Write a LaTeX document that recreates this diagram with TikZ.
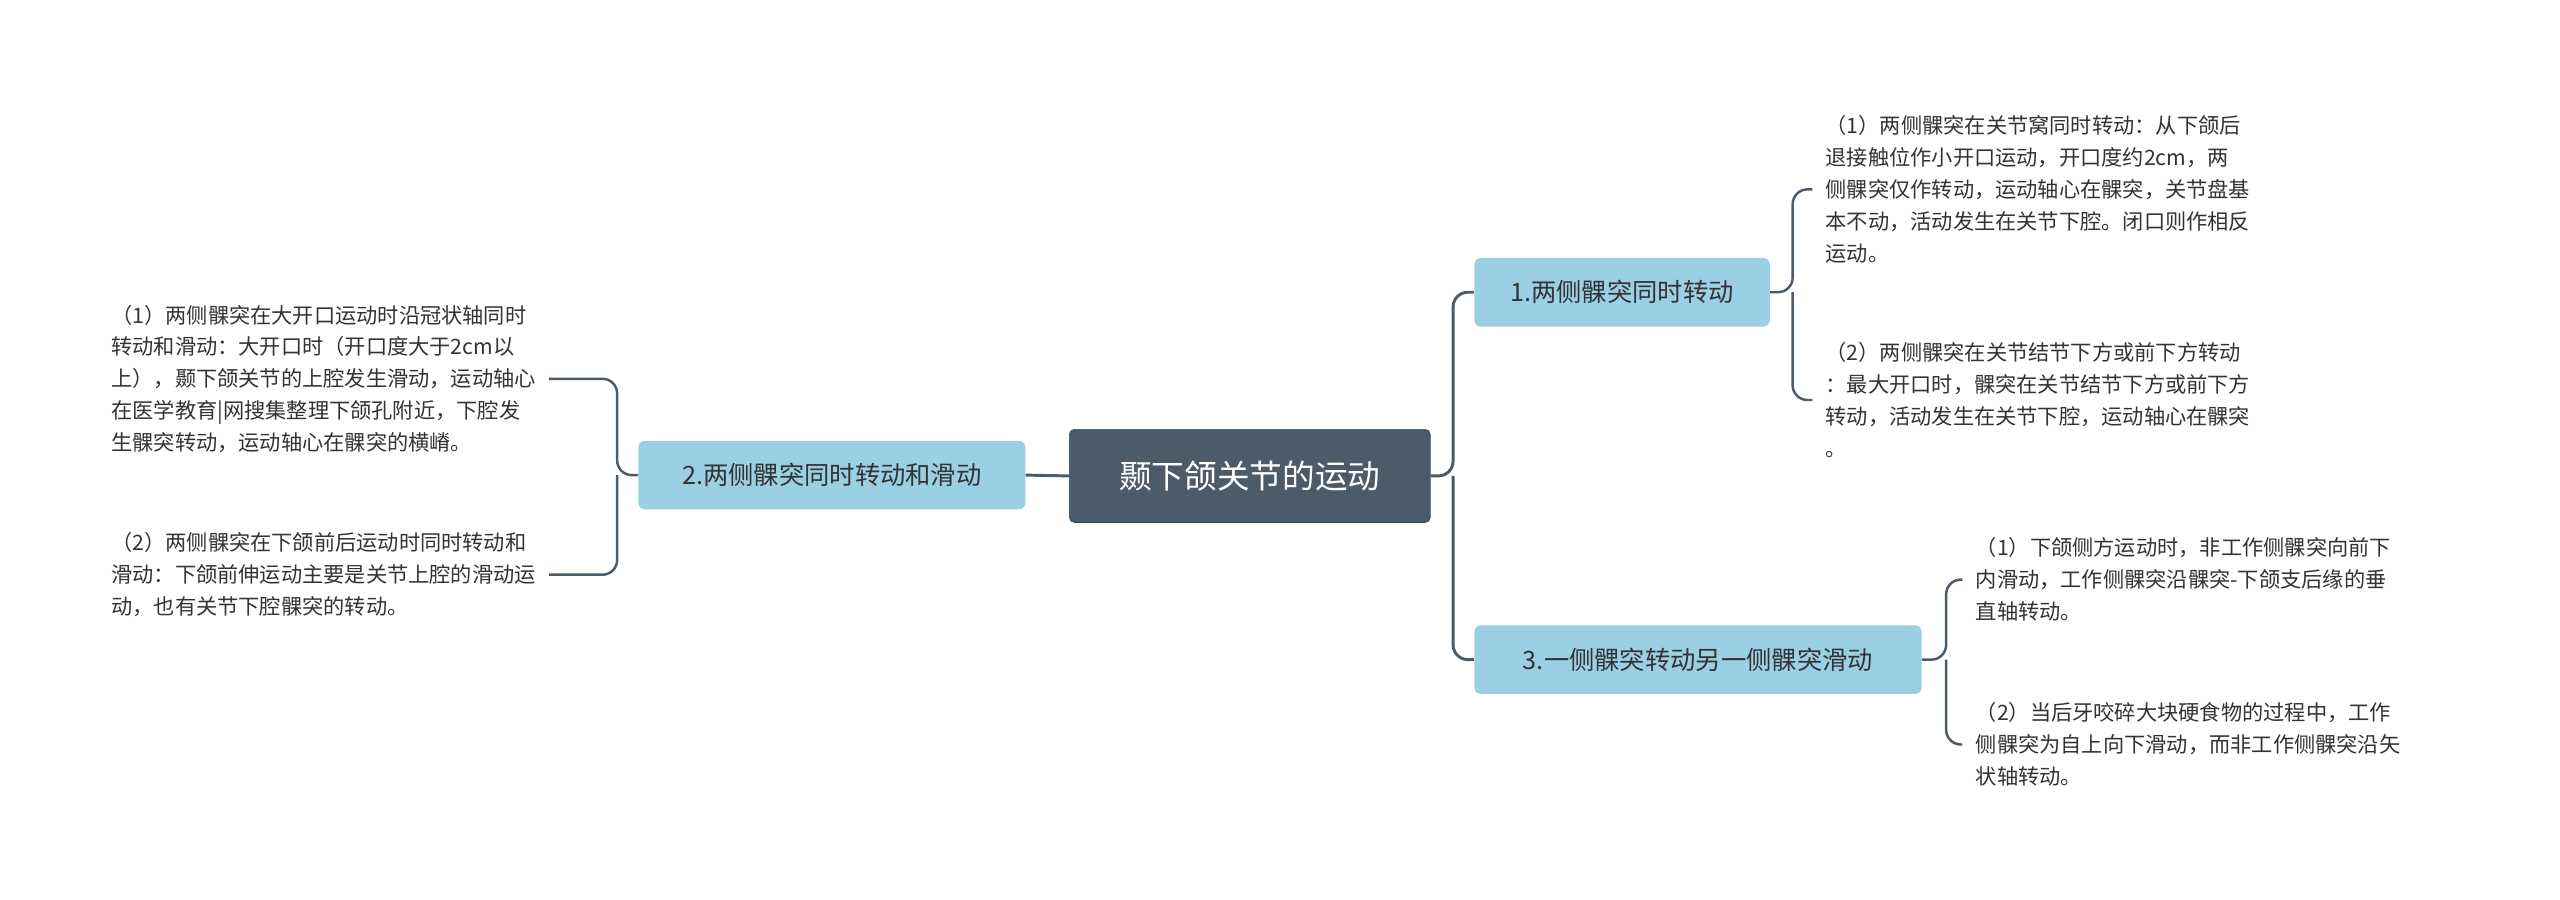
\documentclass[tikz,border=0pt]{standalone}
\usepackage{fontspec}
\setmainfont{Noto Sans CJK SC}
\begin{document}
\begin{tikzpicture}[x=1pt,y=-1pt,
  root/.style={fill=rootc,rounded corners=3pt,text=white,font=\fontsize{20}{24}\selectfont,minimum height=57pt,minimum width=221pt,draw=rootc!80!black},
  branch/.style={fill=brc,rounded corners=4pt,text=txt,font=\fontsize{15.5}{19}\selectfont,minimum height=42pt,inner xsep=9pt},
  leaf/.style={anchor=west,align=left,inner sep=0pt,text=txt,font=\fontsize{13}{19.5}\selectfont},
  conn/.style={draw=rootc,line width=1.8pt,rounded corners=9pt}]
\definecolor{rootc}{HTML}{4B5B6A}
\definecolor{brc}{HTML}{9BCFE4}
\definecolor{txt}{HTML}{333333}
\useasboundingbox[fill=white] (0,0) rectangle (1568,551);
\node[root] (c) at (765.5,291.5) {颞下颌关节的运动};
\node[branch,minimum width=181pt] (n1) at (993.5,179) {1.两侧髁突同时转动};
\node[branch,minimum width=237pt] (n2) at (509.5,291) {2.两侧髁突同时转动和滑动};
\node[branch,minimum width=274pt] (n3) at (1040,404) {3.一侧髁突转动另一侧髁突滑动};
\node[leaf] (l1a) at (1118,116) {（1）两侧髁突在关节窝同时转动：从下颌后\\退接触位作小开口运动，开口度约2cm，两\\侧髁突仅作转动，运动轴心在髁突，关节盘基\\本不动，活动发生在关节下腔。闭口则作相反\\运动。};
\node[leaf] (l1b) at (1118,245) {（2）两侧髁突在关节结节下方或前下方转动\\：最大开口时，髁突在关节结节下方或前下方\\转动，活动发生在关节下腔，运动轴心在髁突\\。};
\node[leaf] (l2a) at (68,232) {（1）两侧髁突在大开口运动时沿冠状轴同时\\转动和滑动：大开口时（开口度大于2cm以\\上），颞下颌关节的上腔发生滑动，运动轴心\\在医学教育|网搜集整理下颌孔附近，下腔发\\生髁突转动，运动轴心在髁突的横嵴。};
\node[leaf] (l2b) at (68,352) {（2）两侧髁突在下颌前后运动时同时转动和\\滑动：下颌前伸运动主要是关节上腔的滑动运\\动，也有关节下腔髁突的转动。};
\node[leaf] (l3a) at (1210,355) {（1）下颌侧方运动时，非工作侧髁突向前下\\内滑动，工作侧髁突沿髁突-下颌支后缘的垂\\直轴转动。};
\node[leaf] (l3b) at (1210,456) {（2）当后牙咬碎大块硬食物的过程中，工作\\侧髁突为自上向下滑动，而非工作侧髁突沿矢\\状轴转动。};
\coordinate (jc) at (890,291.5);
\coordinate (j1) at (1098,179);
\coordinate (j2) at (378,291);
\coordinate (j3) at (1192,404);
\draw[conn] (c.east) -- (jc) |- (n1.west);
\draw[conn] (jc) |- (n3.west);
\draw[conn] (c.west) -- (n2.east);
\draw[conn,line width=1.5pt] (n1.east) -- (j1) |- ([xshift=-8pt]l1a.west);
\draw[conn,line width=1.5pt] (j1) |- ([xshift=-8pt]l1b.west);
\draw[conn,line width=1.5pt] (n2.west) -- (j2) |- ([xshift=8pt]l2a.east);
\draw[conn,line width=1.5pt] (j2) |- ([xshift=8pt]l2b.east);
\draw[conn,line width=1.5pt] (n3.east) -- (j3) |- ([xshift=-8pt]l3a.west);
\draw[conn,line width=1.5pt] (j3) |- ([xshift=-8pt]l3b.west);
\end{tikzpicture}
\end{document}
